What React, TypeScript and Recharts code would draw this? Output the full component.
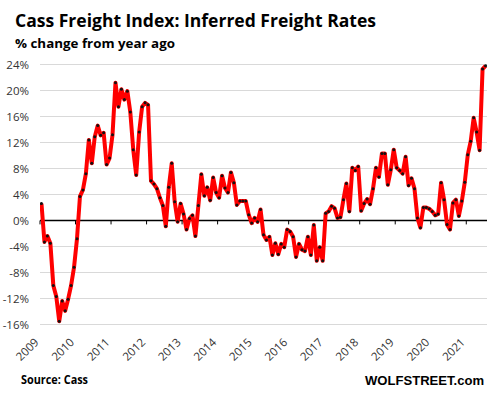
import React from 'react';
import { LineChart, Line, XAxis, YAxis, CartesianGrid, ReferenceLine } from 'recharts';

// monthly y/y % change, Jan..Dec
const rates2009 = [2.6, -3.3, -2.4, -3.5, -10.0, -11.7, -15.5, -12.4, -13.9, -12.1, -10.0, -7.2];
const rates2010 = [-2.8, 3.7, 4.7, 7.2, 12.4, 8.8, 12.9, 14.6, 13.1, 13.5, 8.6, 9.6];
const rates2011 = [13.2, 21.2, 17.5, 20.2, 18.6, 19.9, 16.7, 10.9, 7.0, 13.6, 17.5, 18.1];
const rates2012 = [17.8, 6.1, 5.6, 4.9, 3.5, 2.3, -0.9, 5.1, 8.8, 2.9, -0.2, 2.6];
const rates2013 = [1.0, -1.4, 0.3, 0.8, -2.4, 2.3, 7.1, 3.8, 5.1, 3.1, 6.6, 4.3];
const rates2014 = [3.5, 6.9, 5.0, 4.3, 7.4, 5.8, 2.4, 3.0, 3.0, 3.0, 0.9, -0.4];
const rates2015 = [0.4, -0.2, 1.7, -2.2, -3.0, -2.5, -5.3, -3.5, -5.2, -3.6, -4.1, -1.4];
const rates2016 = [-1.7, -2.5, -5.6, -3.6, -4.5, -4.7, -2.5, -5.3, -0.7, -6.2, -4.1, -6.2];
const rates2017 = [1.1, 1.4, 2.2, 1.9, 0.4, 0.5, 3.2, 5.7, 1.4, 8.1, 7.7, 8.3];
const rates2018 = [1.5, 2.6, 3.3, 2.5, 4.9, 8.1, 6.7, 10.3, 10.3, 5.5, 7.8, 10.9];
const rates2019 = [8.1, 7.7, 7.2, 9.8, 5.4, 6.5, 4.9, 0.4, -1.1, 2.0, 2.0, 1.8];
const rates2020 = [1.4, 0.8, 1.0, 5.8, 3.2, -0.6, -1.4, 2.7, 3.2, 0.7, 3.0, 5.9];
const rates2021 = [10.1, 12.2, 15.8, 13.6, 10.8, 23.3, 23.8];

const yearLabels = ['2009', '2010', '2011', '2012', '2013', '2014', '2015', '2016', '2017', '2018', '2019', '2020', '2021'];
const yTicks = [-16, -12, -8, -4, 0, 4, 8, 12, 16, 20, 24];

const allRates = [
  ...rates2009, ...rates2010, ...rates2011, ...rates2012, ...rates2013, ...rates2014, ...rates2015,
  ...rates2016, ...rates2017, ...rates2018, ...rates2019, ...rates2020, ...rates2021,
];
const data = allRates.map((v, i) => ({ idx: i, rate: v }));
const yearTicks = yearLabels.map((_, k) => k * 12);
const lastIdx = allRates.length - 1;

const FONT = '"Open Sans", "Liberation Sans", sans-serif';

const YearTick = ({ x, y, payload }: any) => {
  const label = yearLabels[Math.round(payload.value / 12)];
  const tx = x - 2;
  const ty = y + 18.5;
  return (
    <text
      x={tx}
      y={ty}
      transform={`rotate(-45 ${tx} ${ty})`}
      textAnchor="end"
      fontFamily={FONT}
      fontSize={11.5}
      fill="#333"
    >
      {label}
    </text>
  );
};

export default function App() {
  return (
    <div style={{ position: 'absolute', left: 0, top: 0, width: 492, height: 398, background: '#fff' }}>
      <LineChart
        width={492}
        height={398}
        data={data}
        margin={{ top: 64.5, right: 5, bottom: 0, left: 0 }}
      >
        <CartesianGrid horizontal vertical={false} stroke="#d9d9d9" />
        <XAxis
          dataKey="idx"
          type="number"
          domain={[-0.5, lastIdx + 0.5]}
          ticks={yearTicks}
          height={73.5}
          axisLine={false}
          tickLine={false}
          tickSize={0}
          tickMargin={0}
          interval={0}
          tick={<YearTick />}
          allowDataOverflow
        />
        <YAxis
          type="number"
          domain={[-16, 24]}
          ticks={yTicks}
          width={40}
          axisLine={false}
          tickLine={false}
          tickSize={0}
          tickMargin={11}
          interval={0}
          tickFormatter={(v: number) => `${v}%`}
          tick={{ fontFamily: FONT, fontSize: 11.5, fill: '#333' }}
        />
        <ReferenceLine y={0} stroke="#000" strokeWidth={1.3} />
        {yearTicks.map(t => (
          <ReferenceLine
            key={t}
            segment={[{ x: t - 0.5, y: 0 }, { x: t - 0.5, y: -0.6 }]}
            stroke="#000"
            strokeWidth={1}
          />
        ))}
        <Line
          type="linear"
          dataKey="rate"
          stroke="#ff0000"
          strokeWidth={4}
          strokeLinejoin="round"
          dot={{ r: 1.5, fill: '#111', stroke: 'none' }}
          activeDot={false}
          isAnimationActive={false}
        />
      </LineChart>
      <svg
        width={492}
        height={398}
        style={{ position: 'absolute', left: 0, top: 0, pointerEvents: 'none' }}
      >
        <text x={15} y={27} fontFamily={FONT} fontWeight={700} fontSize={17} textLength={361} lengthAdjust="spacingAndGlyphs" fill="#000">
          Cass Freight Index: Inferred Freight Rates
        </text>
        <text x={15} y={47.5} fontFamily={FONT} fontWeight={700} fontSize={12.5} textLength={160} lengthAdjust="spacingAndGlyphs" fill="#000">
          % change from year ago
        </text>
        <text x={21} y={384} fontFamily={FONT} fontWeight={700} fontSize={11.5} textLength={67} lengthAdjust="spacingAndGlyphs" fill="#000">
          Source: Cass
        </text>
        <text x={365} y={384.5} fontFamily='"Liberation Sans", Arial, sans-serif' fontWeight={700} fontSize={13.5} textLength={119} lengthAdjust="spacingAndGlyphs" fill="#000">
          WOLFSTREET.com
        </text>
      </svg>
    </div>
  );
}
